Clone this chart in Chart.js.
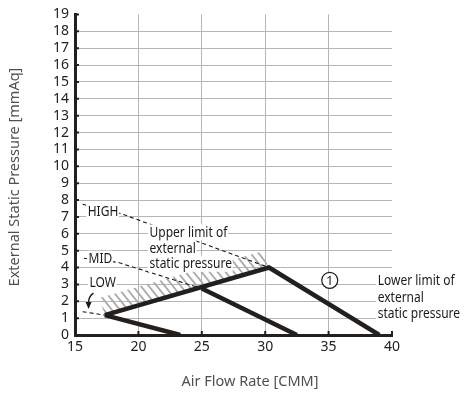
<!DOCTYPE html>
<html>
<head>
<meta charset="utf-8">
<script src="https://cdn.jsdelivr.net/npm/chart.js@4/dist/chart.umd.min.js"></script>
<style>
  body { margin: 0; background: #fff; }
  #chart { display: block; }
</style>
</head>
<body>
<canvas id="chart" width="464" height="396"></canvas>
<script>
// Fan curve data: air flow [CMM] vs external static pressure [mmAq]
var highFlow = [17.35, 30.3, 39.0];
var highEsp = [1.18, 4.0, 0];
var midFlow = [25.0, 32.5];
var midEsp = [2.75, 0];
var lowFlow = [17.35, 23.3];
var lowEsp = [1.18, 0];

// hatched zone above the upper limit line
var hatchFlow = [16.9, 29.7, 30.3, 17.35];
var hatchEsp = [2.2, 4.95, 4.0, 1.18];

// dashed leader lines from the HIGH / MID / LOW labels
var highLeadFlow = [15.6, 18.6, 30.3];
var highLeadEsp = [7.75, 7.2, 4.0];
var midLeadFlow = [15.7, 18.4, 25.0];
var midLeadEsp = [4.55, 4.3, 2.75];
var lowLeadFlow = [15.6, 17.35];
var lowLeadEsp = [1.38, 1.18];

var xTicks = [15, 20, 25, 30, 35, 40];
var yMax = 19;

function pts(xs, ys) {
    var out = [];
    for (var i = 0; i < xs.length; i++) {
        out.push({x: xs[i], y: ys[i]});
    }
    return out;
}

// diagonal hatch pattern, a bit steeper than 45 deg
function makeHatch() {
    var c = document.createElement('canvas');
    c.width = 8;
    c.height = 10;
    var g = c.getContext('2d');
    g.strokeStyle = '#ababab';
    g.lineWidth = 1.8;
    g.beginPath();
    g.moveTo(-2, -2.5); g.lineTo(10, 12.5);
    g.moveTo(-2, 7.5); g.lineTo(2, 12.5);
    g.moveTo(6, -2.5); g.lineTo(10, 2.5);
    g.stroke();
    return g.createPattern(c, 'repeat');
}

var ink = '#231f1c';
var annFont = "15px 'Noto Sans', sans-serif";

function boxText(ctx, txt, px, py) {
    ctx.save();
    ctx.translate(px, py);
    ctx.scale(0.8, 1);
    ctx.font = annFont;
    ctx.textBaseline = 'middle';
    var w = ctx.measureText(txt).width;
    ctx.fillStyle = '#fff';
    ctx.fillRect(-2, -8, w + 3, 16);
    ctx.fillStyle = '#1a1a1a';
    ctx.fillText(txt, 0, 0);
    ctx.restore();
}

var annotations = {
    id: 'annotations',
    afterDatasetsDraw: function(chart) {
        var ctx = chart.ctx;
        var x = chart.scales.x, y = chart.scales.y;

        boxText(ctx, 'HIGH', x.getPixelForValue(16.0), y.getPixelForValue(7.32));
        boxText(ctx, 'MID', x.getPixelForValue(16.07), y.getPixelForValue(4.52));
        boxText(ctx, 'LOW', x.getPixelForValue(16.14), y.getPixelForValue(3.07));

        var ux = x.getPixelForValue(20.88);
        boxText(ctx, 'Upper limit of', ux, y.getPixelForValue(6.08));
        boxText(ctx, 'external', ux, y.getPixelForValue(5.13));
        boxText(ctx, 'static pressure', ux, y.getPixelForValue(4.22));

        var lx = x.getPixelForValue(38.87);
        boxText(ctx, 'Lower limit of', lx, y.getPixelForValue(3.19));
        boxText(ctx, 'external', lx, y.getPixelForValue(2.21));
        boxText(ctx, 'static pressure', lx, y.getPixelForValue(1.27));

        // circled 1
        var cx = x.getPixelForValue(35.09), cy = y.getPixelForValue(3.24);
        ctx.save();
        ctx.beginPath();
        ctx.arc(cx, cy, 8, 0, Math.PI * 2);
        ctx.fillStyle = '#fff';
        ctx.fill();
        ctx.strokeStyle = '#1a1a1a';
        ctx.lineWidth = 1.2;
        ctx.stroke();
        ctx.fillStyle = '#1a1a1a';
        ctx.font = "13px 'Noto Sans', sans-serif";
        ctx.textAlign = 'center';
        ctx.textBaseline = 'middle';
        ctx.fillText('1', cx, cy + 0.5);
        ctx.restore();

        // curved arrow under LOW
        var sx = x.getPixelForValue(16.46), sy = y.getPixelForValue(2.48);
        var ex = x.getPixelForValue(16.07), ey = y.getPixelForValue(1.54);
        ctx.save();
        ctx.strokeStyle = '#1a1a1a';
        ctx.fillStyle = '#1a1a1a';
        ctx.lineWidth = 1.3;
        ctx.beginPath();
        ctx.moveTo(sx, sy);
        ctx.quadraticCurveTo(ex, sy + 3, ex, ey - 6);
        ctx.stroke();
        ctx.beginPath();
        ctx.moveTo(ex, ey);
        ctx.lineTo(ex - 3, ey - 7);
        ctx.lineTo(ex + 3, ey - 7);
        ctx.closePath();
        ctx.fill();
        ctx.restore();
    },
    afterDraw: function(chart) {
        var ctx = chart.ctx;
        var x = chart.scales.x, y = chart.scales.y;
        var a = chart.chartArea;
        ctx.save();
        ctx.strokeStyle = ink;
        ctx.lineWidth = 2;
        ctx.beginPath();
        // inner ticks on the y axis
        for (var v = 1; v <= yMax; v++) {
            var py = y.getPixelForValue(v);
            ctx.moveTo(a.left, py);
            ctx.lineTo(a.left + 4, py);
        }
        // inner ticks on the x axis
        for (var i = 1; i < xTicks.length; i++) {
            var px = x.getPixelForValue(xTicks[i]);
            ctx.moveTo(px, a.bottom);
            ctx.lineTo(px, a.bottom - 4);
        }
        ctx.stroke();

        // axis titles
        ctx.fillStyle = '#505050';
        ctx.font = "14.5px 'Noto Sans', sans-serif";
        ctx.textAlign = 'center';
        ctx.textBaseline = 'middle';
        ctx.fillText('Air Flow Rate [CMM]', 250, 382);
        ctx.translate(15, 177);
        ctx.rotate(-Math.PI / 2);
        ctx.fillText('External Static Pressure [mmAq]', 0, 0);
        ctx.restore();
    }
};

var thick = {
    borderColor: ink,
    borderWidth: 4.5,
    pointRadius: 0,
    fill: false,
    tension: 0,
    borderCapStyle: 'butt',
    borderJoinStyle: 'miter'
};

function dashed(data) {
    return {
        data: data,
        borderColor: '#1a1a1a',
        borderWidth: 1.1,
        borderDash: [4, 3],
        pointRadius: 0,
        fill: false,
        order: 2
    };
}

var ctx = document.getElementById('chart');
var chart = new Chart(ctx, {
    type: 'line',
    data: {
        datasets: [
            Object.assign({label: 'HIGH', data: pts(highFlow, highEsp), order: 1}, thick),
            Object.assign({label: 'MID', data: pts(midFlow, midEsp), order: 1}, thick),
            Object.assign({label: 'LOW', data: pts(lowFlow, lowEsp), order: 1}, thick),
            dashed(pts(highLeadFlow, highLeadEsp)),
            dashed(pts(midLeadFlow, midLeadEsp)),
            dashed(pts(lowLeadFlow, lowLeadEsp)),
            {
                label: 'zone',
                data: pts(hatchFlow, hatchEsp),
                borderWidth: 0,
                borderColor: 'rgba(0,0,0,0)',
                backgroundColor: makeHatch(),
                pointRadius: 0,
                fill: 'shape',
                order: 3
            }
        ]
    },
    options: {
        responsive: false,
        animation: false,
        devicePixelRatio: 1,
        layout: {padding: {top: 13, right: 72, left: 0, bottom: 0}},
        plugins: {
            legend: {display: false},
            tooltip: {enabled: false}
        },
        scales: {
            x: {
                type: 'linear',
                min: 15,
                max: 40,
                afterFit: function(s) { s.height = 61; },
                afterBuildTicks: function(s) {
                    s.ticks = xTicks.map(function(v) { return {value: v}; });
                },
                ticks: {
                    color: '#222',
                    font: {family: "'Noto Sans', sans-serif", size: 14},
                    padding: 4,
                    maxRotation: 0
                },
                grid: {
                    drawTicks: false,
                    lineWidth: 1,
                    color: function(c) {
                        var v = c.tick && c.tick.value;
                        return (v === 15 || v === 40) ? 'rgba(0,0,0,0)' : '#b5b5b5';
                    }
                },
                border: {color: ink, width: 3}
            },
            y: {
                min: 0,
                max: yMax,
                afterFit: function(s) { s.width = 75; },
                ticks: {
                    stepSize: 1,
                    autoSkip: false,
                    color: '#222',
                    font: {family: "'Noto Sans', sans-serif", size: 14},
                    padding: 6
                },
                grid: {
                    drawTicks: false,
                    lineWidth: 1,
                    color: function(c) {
                        var v = c.tick && c.tick.value;
                        return (v === 0 || v === yMax) ? 'rgba(0,0,0,0)' : '#b5b5b5';
                    }
                },
                border: {color: ink, width: 3}
            }
        }
    },
    plugins: [annotations]
});
</script>
</body>
</html>
